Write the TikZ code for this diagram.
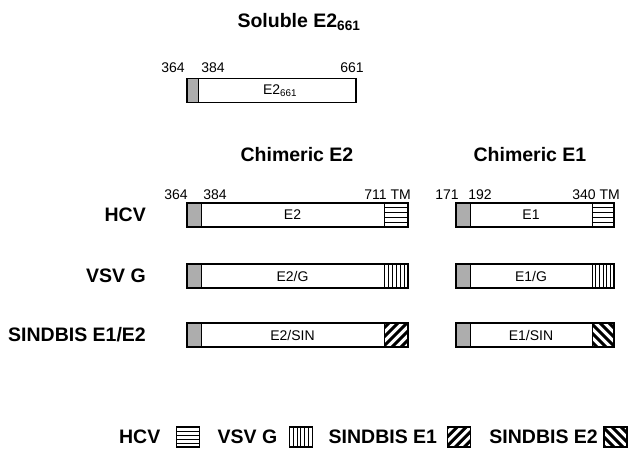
\documentclass[tikz,border=0pt]{standalone}
\usepackage{fontspec}
\setmainfont{Liberation Sans}
\usetikzlibrary{positioning,calc}

\begin{document}
\begin{tikzpicture}[x=1pt,y=-1pt,
  head/.style={font=\bfseries\fontsize{19.5}{22}\selectfont,inner sep=0pt},
  num/.style={font=\fontsize{14}{16}\selectfont,inner sep=0pt},
  bar/.style={draw,line width=1.6pt,fill=white,minimum height=24pt,inner sep=0pt,outer sep=0pt},
  anch/.style={draw,line width=0.8pt,fill=black!32,minimum height=24pt,minimum width=14pt,inner sep=0pt,outer sep=0pt},
  tailbox/.style={draw,line width=0.8pt,fill=white,minimum height=24pt,minimum width=24pt,inner sep=0pt,outer sep=0pt},
  icon/.style={draw,line width=1.2pt,fill=white,minimum height=20pt,minimum width=23pt,inner sep=0pt,outer sep=0pt},
  hcvtm/.style={path picture={\foreach \k in {1,...,4}
    \draw[line width=1pt] ($(path picture bounding box.north west)!\k/5!(path picture bounding box.south west)$) -- ($(path picture bounding box.north east)!\k/5!(path picture bounding box.south east)$);}},
  vsvtm/.style={path picture={\foreach \k in {1,...,5}
    \draw[line width=1pt] ($(path picture bounding box.north west)!\k/6!(path picture bounding box.north east)$) -- ($(path picture bounding box.south west)!\k/6!(path picture bounding box.south east)$);}},
  sinone/.style={path picture={\foreach \k in {-28,-19,...,28}
    \draw[line width=3pt] ($(path picture bounding box.south west)+(\k,0)$) -- ++(30,-30);}},
  sintwo/.style={path picture={\foreach \k in {-28,-19,...,28}
    \draw[line width=3pt] ($(path picture bounding box.north west)+(\k,0)$) -- ++(30,30);}}]
\useasboundingbox (0,0) rectangle (629,448);

% soluble construct
\node[head] (soltitle) at (299,22) {Soluble E2\textsubscript{661}};
\node[num] (s364) at (173,68) {364};
\node[num] (s384) at (213,68) {384};
\node[num] (s661) at (352,68) {661};
\node[bar,minimum width=169pt,anchor=west] (sol) at (187,90.5) {};
\node[anch,minimum width=11pt,anchor=west] (sola) at (sol.west) {};
\node[num] (sollab) at (280,91) {E2\textsubscript{661}};
\draw[line width=1.6pt] (sol.north west) rectangle (sol.south east);

% column heads and residue numbers
\node[head] (chimtwo) at (297,155) {Chimeric E2};
\node[head] (chimone) at (530,155) {Chimeric E1};
\node[num] (c364) at (176,195) {364};
\node[num] (c384) at (215,195) {384};
\node[num,anchor=east] (c711) at (411,195) {711 TM};
\node[num] (c171) at (447,195) {171};
\node[num] (c192) at (480,195) {192};
\node[num,anchor=east] (c340) at (620,195) {340 TM};

% rows: E2 and E1 chimeras
\foreach \r/\y/\txt/\tma/\tmb/\labtwo/\labone in
    {hcv/215/HCV/hcvtm/hcvtm/E2/E1,
     vsv/276/VSV G/vsvtm/vsvtm/{E2/G}/{E1/G},
     sin/335/{SINDBIS E1/E2}/sinone/sintwo/{E2/SIN}/{E1/SIN}} {
  \node[head,anchor=east] (row\r) at (146,\y) {\txt};
  \node[bar,minimum width=221pt,anchor=west] (etwo\r) at (187,\y) {};
  \node[anch,anchor=west] (etwo\r a) at (etwo\r.west) {};
  \node[tailbox,\tma,anchor=east] (etwo\r t) at (etwo\r.east) {};
  \node[num] at ($(etwo\r a.east)!.5!(etwo\r t.west)$) {\labtwo};
  \draw[line width=1.6pt] (etwo\r.north west) rectangle (etwo\r.south east);
  \node[bar,minimum width=158pt,anchor=west] (eone\r) at (456,\y) {};
  \node[anch,anchor=west] (eone\r a) at (eone\r.west) {};
  \node[tailbox,\tmb,minimum width=22pt,anchor=east] (eone\r t) at (eone\r.east) {};
  \node[num] at ($(eone\r a.east)!.5!(eone\r t.west)$) {\labone};
  \draw[line width=1.6pt] (eone\r.north west) rectangle (eone\r.south east);
}

% legend
\node[icon,sintwo,anchor=east] (icsintwo) at (627,437) {};
\node[head,left=6pt of icsintwo] (lgsintwo) {SINDBIS E2};
\node[icon,sinone,left=19pt of lgsintwo] (icsinone) {};
\node[head,left=10pt of icsinone] (lgsinone) {SINDBIS E1};
\node[icon,vsvtm,left=16pt of lgsinone] (icvsv) {};
\node[head,left=12pt of icvsv] (lgvsv) {VSV G};
\node[icon,hcvtm,left=18pt of lgvsv] (ichcv) {};
\node[head,left=16pt of ichcv] (lghcv) {HCV};
\end{tikzpicture}
\end{document}
